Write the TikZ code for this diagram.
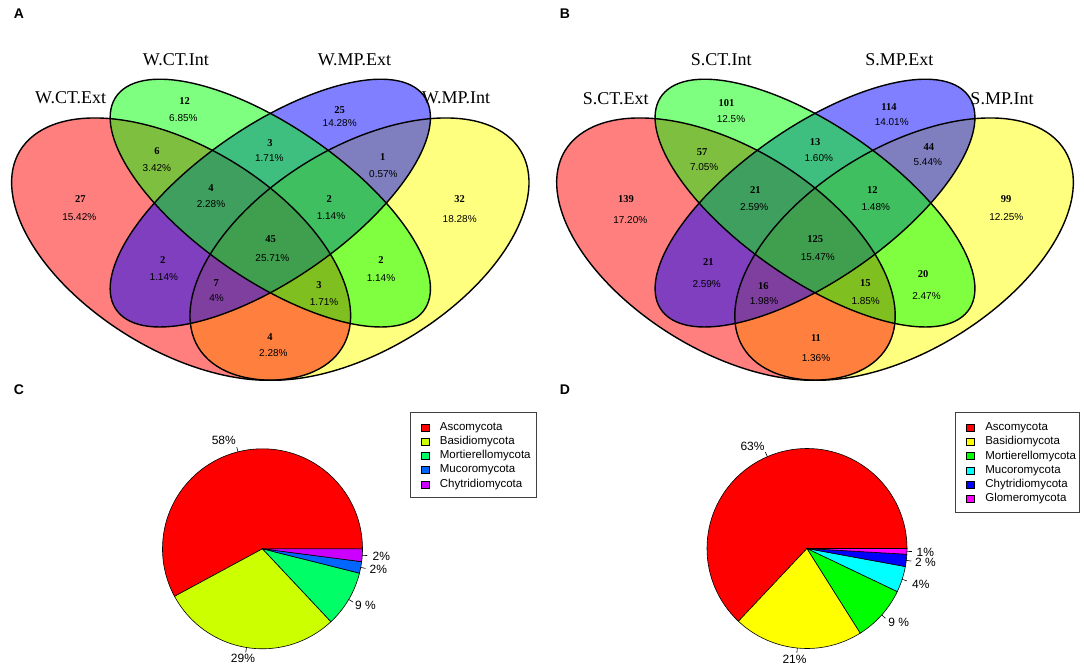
\documentclass[tikz,border=0pt]{standalone}
\usepackage{fontspec}
\setmainfont{Liberation Serif}
\newfontfamily\arialf{Liberation Sans}
\definecolor{vR}{HTML}{FF0000}
\definecolor{vG}{HTML}{00FF00}
\definecolor{vB}{HTML}{0000FF}
\definecolor{vY}{HTML}{FFFF00}
\definecolor{cR}{HTML}{FF0000}
\definecolor{cY}{HTML}{CCFF00}
\definecolor{cG}{HTML}{00FF66}
\definecolor{cB}{HTML}{0066FF}
\definecolor{cP}{HTML}{CC00FF}
\definecolor{dR}{HTML}{FF0000}
\definecolor{dY}{HTML}{FFFF00}
\definecolor{dG}{HTML}{00FF00}
\definecolor{dC}{HTML}{00FFFF}
\definecolor{dB}{HTML}{0000FF}
\definecolor{dM}{HTML}{FF00FF}
% note: rotation sense is mirrored by the y-down coordinate vector, so 45 here = 135 deg in the up-pointing frame
\newcommand\vennfills{%
  \fill[vY,fill opacity=0.5,rotate around={135:(0.65,0.47)}] (0.65,0.47) ellipse [x radius=0.35,y radius=0.2];
  \fill[vR,fill opacity=0.5,rotate around={45:(0.35,0.47)}] (0.35,0.47) ellipse [x radius=0.35,y radius=0.2];
  \fill[vB,fill opacity=0.5,rotate around={135:(0.5,0.57)}] (0.5,0.57) ellipse [x radius=0.35,y radius=0.15];
  \fill[vG,fill opacity=0.5,rotate around={45:(0.5,0.57)}] (0.5,0.57) ellipse [x radius=0.35,y radius=0.15];
  \draw[vline,rotate around={135:(0.65,0.47)}] (0.65,0.47) ellipse [x radius=0.35,y radius=0.2];
  \draw[vline,rotate around={45:(0.35,0.47)}] (0.35,0.47) ellipse [x radius=0.35,y radius=0.2];
  \draw[vline,rotate around={135:(0.5,0.57)}] (0.5,0.57) ellipse [x radius=0.35,y radius=0.15];
  \draw[vline,rotate around={45:(0.5,0.57)}] (0.5,0.57) ellipse [x radius=0.35,y radius=0.15];
}
% region label: name, count pos, count, pct pos, pct
\newcommand\reg[5]{\node[cnt] (#1n) at (#2) {#3}; \node[pct] (#1p) at (#4) {#5};}
% pie slice: start, end, colour
\newcommand\slice[3]{\filldraw[pieline,fill=#3] (0,0) -- (#1:100) arc[start angle=#1,end angle=#2,radius=100] -- cycle;}
\newcommand\ptick[1]{\draw[pieline] (#1:100) -- (#1:105);}
\begin{document}
\begin{tikzpicture}[x=1pt,y=-1pt,
  vline/.style={draw=black,line width=1.4pt},
  cat/.style={font=\fontsize{18}{18}\selectfont,inner sep=0pt},
  cnt/.style={font=\bfseries\fontsize{10.5}{10.5}\selectfont,inner sep=0pt},
  pct/.style={font=\arialf\fontsize{10}{10}\selectfont,inner sep=0pt},
  panel/.style={font=\arialf\bfseries\fontsize{14}{14}\selectfont,inner sep=0pt},
  plab/.style={font=\arialf\fontsize{12}{12}\selectfont,inner sep=0pt},
  leg/.style={font=\arialf\fontsize{11.5}{11.5}\selectfont,inner sep=0pt,anchor=west},
  legbox/.style={draw=black!75,line width=0.9pt},
  legsq/.style={draw=black,line width=0.4pt},
  pieline/.style={draw=black,line width=0.6pt}]
\useasboundingbox (0,0) rectangle (1084,668);
\fill[white] (0,0) rectangle (1084,668);

% ---------- Venn A ----------
\begin{scope}[shift={(-27,465.3)},xscale=594.6,yscale=-460]
\vennfills
\end{scope}
\node[panel] (pA) at (19,14) {A};
\node[cat] (a1) at (70.7,97.3) {W.CT.Ext};
\node[cat] (a2) at (175.9,60) {W.CT.Int};
\node[cat] (a3) at (354.5,60) {W.MP.Ext};
\node[cat] (a4) at (456,97.3) {W.MP.Int};
\reg{ar1}{80.3,199}{27}{79.3,216.7}{15.42\%}
\reg{ar2}{184.5,101}{12}{183.4,118.3}{6.85\%}
\reg{ar3}{339.7,110}{25}{339.7,123.3}{14.28\%}
\reg{ar4}{459.7,199.3}{32}{459.7,219.3}{18.28\%}
\reg{ar5}{156.9,150.7}{6}{156.9,167.7}{3.42\%}
\reg{ar6}{270,142.7}{3}{269.3,157.7}{1.71\%}
\reg{ar7}{382.8,157.3}{1}{383.4,174}{0.57\%}
\reg{ar8}{211,187.7}{4}{211,204.3}{2.28\%}
\reg{ar9}{329.3,199}{2}{331,215.7}{1.14\%}
\reg{ar10}{270.7,239.3}{45}{272.4,258.3}{25.71\%}
\reg{ar11}{162.8,260}{2}{163.8,277.3}{1.14\%}
\reg{ar12}{381,260}{2}{381,278.3}{1.14\%}
\reg{ar13}{216.2,282.7}{7}{216.6,298.3}{4\%}
\reg{ar14}{319,285}{3}{324.1,301.7}{1.71\%}
\reg{ar15}{270,337}{4}{273.4,353.3}{2.28\%}

% ---------- Venn B ----------
\begin{scope}[shift={(518.1,465.3)},xscale=593.8,yscale=-460]
\vennfills
\end{scope}
\node[panel] (pB) at (565,13.5) {B};
\node[cat] (b1) at (615.7,99) {S.CT.Ext};
\node[cat] (b2) at (721.3,60) {S.CT.Int};
\node[cat] (b3) at (899.4,60) {S.MP.Ext};
\node[cat] (b4) at (1002,99) {S.MP.Int};
\reg{br1}{626.1,199.3}{139}{630.3,220}{17.20\%}
\reg{br2}{726.5,103.3}{101}{731,119}{12.5\%}
\reg{br3}{889,106.7}{114}{891.7,122.3}{14.01\%}
\reg{br4}{1006,199.3}{99}{1006.3,216.7}{12.25\%}
\reg{br5}{702.2,152.3}{57}{704.2,166.7}{7.05\%}
\reg{br6}{815,142.3}{13}{818.8,157.7}{1.60\%}
\reg{br7}{928.9,147.3}{44}{927.8,162.3}{5.44\%}
\reg{br8}{755.3,190}{21}{754.2,206.7}{2.59\%}
\reg{br9}{872.3,190}{12}{875.8,207.3}{1.48\%}
\reg{br10}{815.3,239.3}{125}{817.8,256.7}{15.47\%}
\reg{br11}{708.4,261.7}{21}{706.7,284}{2.59\%}
\reg{br12}{923,274.3}{20}{926.5,295.7}{2.47\%}
\reg{br13}{763.3,285.7}{16}{764,301}{1.98\%}
\reg{br14}{865.3,283.3}{15}{865.7,301}{1.85\%}
\reg{br15}{816,338}{11}{816,357.7}{1.36\%}

% ---------- Pie C ----------
\node[panel] (pC) at (19,389.3) {C};
\begin{scope}[shift={(262.5,548.8)},yscale=-1]
\slice{0}{208.4}{cR}
\slice{208.4}{313.2}{cY}
\slice{313.2}{345.9}{cG}
\slice{345.9}{352.6}{cB}
\slice{352.6}{360}{cP}
\ptick{104.2}\ptick{260.8}\ptick{329.55}\ptick{349.25}\ptick{356.3}
\end{scope}
\node[plab] (c1) at (223.8,440) {58\%};
\node[plab] (c2) at (243,658.3) {29\%};
\node[plab] (c3) at (365.5,605.7) {9 \%};
\node[plab] (c4) at (378.3,569.3) {2\%};
\node[plab] (c5) at (381.4,556) {2\%};
\draw[legbox] (410.3,412.7) rectangle (536.2,497.7);
\foreach \c/\t [count=\i] in {cR/Ascomycota,cY/Basidiomycota,cG/Mortierellomycota,cB/Mucoromycota,cP/Chytridiomycota}{
  \path[legsq,fill=\c] (421.4,{427.7+14.15*(\i-1)-3.5}) rectangle ++(8,7);
  \node[leg] (cl\i) at (439.7,{427.7+14.15*(\i-1)}) {\t};
}

% ---------- Pie D ----------
\node[panel] (pD) at (565,389.3) {D};
\begin{scope}[shift={(807,548.5)},yscale=-1]
\slice{0}{226.7}{dR}
\slice{226.7}{302.2}{dY}
\slice{302.2}{334.5}{dG}
\slice{334.5}{349.6}{dC}
\slice{349.6}{356.7}{dB}
\slice{356.7}{360}{dM}
\ptick{113.35}\ptick{264.45}\ptick{318.35}\ptick{342.05}\ptick{353.15}\ptick{358.35}
\end{scope}
\node[plab] (d1) at (752.5,446) {63\%};
\node[plab] (d2) at (794.5,659.3) {21\%};
\node[plab] (d3) at (898.7,622.3) {9 \%};
\node[plab] (d4) at (920.9,584.3) {4\%};
\node[plab] (d5) at (925.4,562.7) {2 \%};
\node[plab] (d6) at (925.4,552.7) {1\%};
\draw[legbox] (955,412.7) rectangle (1079,512.3);
\foreach \c/\t [count=\i] in {dR/Ascomycota,dY/Basidiomycota,dG/Mortierellomycota,dC/Mucoromycota,dB/Chytridiomycota,dM/Glomeromycota}{
  \path[legsq,fill=\c] (966,{427.7+14.2*(\i-1)-3.5}) rectangle ++(8.5,7);
  \node[leg] (dl\i) at (985.1,{427.7+14.2*(\i-1)}) {\t};
}
\end{tikzpicture}
\end{document}
